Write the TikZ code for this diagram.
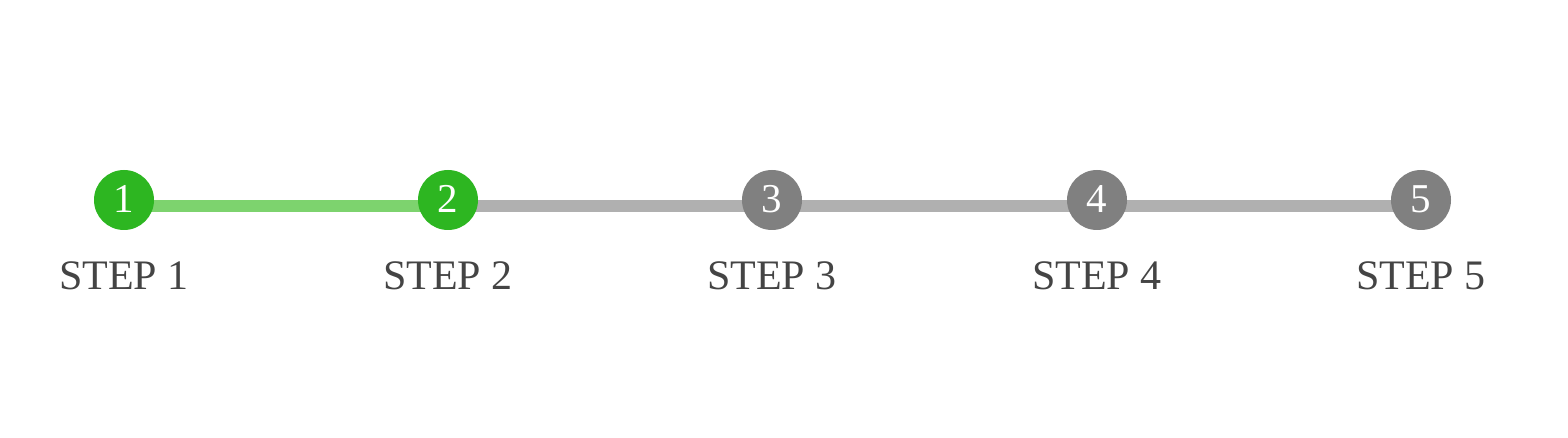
\documentclass[tikz,border=0pt]{standalone}
\usepackage{fontspec}
\setmainfont{Liberation Serif}
\definecolor{done}{HTML}{2DB621}
\definecolor{doneline}{HTML}{7DD36E}
\definecolor{todo}{HTML}{808080}
\definecolor{todoline}{HTML}{B0B0B0}
\definecolor{labeltext}{HTML}{444444}
\tikzset{
  stepdot/.style={circle, minimum size=60pt, inner sep=0pt},
  stepdone/.style={stepdot, fill=done},
  steptodo/.style={stepdot, fill=todo},
  stepnum/.style={anchor=base, inner sep=0pt, text=white, font=\fontsize{41}{41}\selectfont},
  steplabel/.style={anchor=base, text=labeltext, font=\fontsize{42}{42}\selectfont, inner sep=0pt},
  trackdone/.style={draw=doneline, line width=12pt},
  tracktodo/.style={draw=todoline, line width=12pt},
}
\begin{document}
\begin{tikzpicture}[x=1pt,y=-1pt]
\useasboundingbox (0,0) rectangle (1568,438);
\foreach \i/\x in {1/124,2/448,3/772,4/1097,5/1421}{
  \coordinate (p\i) at (\x,200);
  \coordinate (t\i) at (\x,206);
  \coordinate (b\i) at (\x,213);
  \coordinate (s\i) at (\x,289);
}
\draw[trackdone] (t1) -- (t2);
\draw[tracktodo] (t2) -- (t3) -- (t4) -- (t5);
\node[stepdone] (c1) at (p1) {};
\node[stepdone] (c2) at (p2) {};
\node[steptodo] (c3) at (p3) {};
\node[steptodo] (c4) at (p4) {};
\node[steptodo] (c5) at (p5) {};
\foreach \i in {1,...,5}{
  \node[stepnum] (n\i) at (b\i) {\i};
  \node[steplabel] (l\i) at (s\i) {STEP \i};
}
\end{tikzpicture}
\end{document}
